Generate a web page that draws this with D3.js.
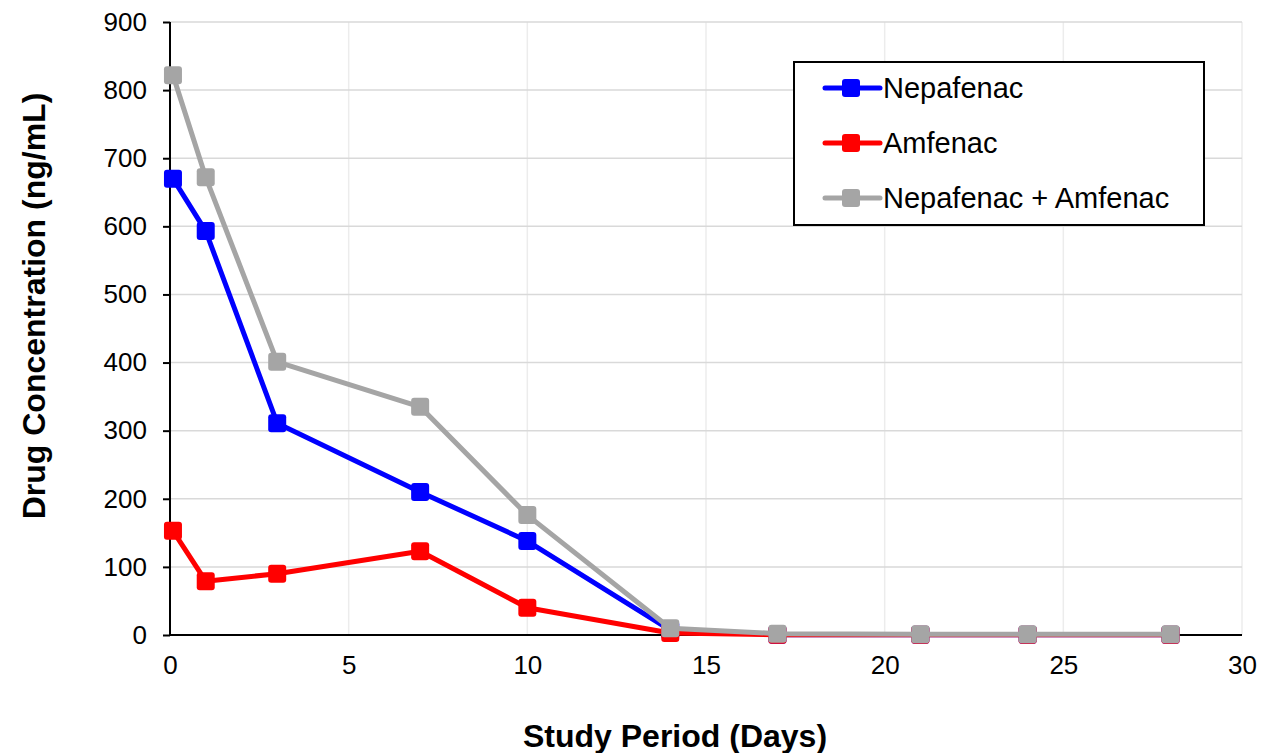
<!DOCTYPE html>
<html>
<head>
<meta charset="utf-8">
<script src="https://cdn.jsdelivr.net/npm/d3@7"></script>
<style>
  body { margin: 0; background: #fff; }
  svg { font-family: "Liberation Sans", Arial, sans-serif; }
</style>
</head>
<body>
<div id="container"></div>
<script>
const w = 1263;
const h = 753;
const margin = {left: 170, right: 21, top: 22, bottom: 118};

// data
const days = [0.083, 1, 3, 7, 10, 14, 17, 21, 24, 28];
const nepafenac = [670, 593, 311, 210, 138, 7, 0.5, 0.3, 0.3, 0.3];
const amfenac = [153, 79, 90, 123, 40, 3, 0.3, 0.2, 0.2, 0.2];
const combined = [822, 672, 401, 335, 176, 10, 2, 1, 1, 1];
const seriesNames = ['Nepafenac', 'Amfenac', 'Nepafenac + Amfenac'];
const seriesColors = ['#0000ff', '#ff0000', '#a5a5a5'];
const xTicks = [0, 5, 10, 15, 20, 25, 30];
const yTicks = [0, 100, 200, 300, 400, 500, 600, 700, 800, 900];

const series = [nepafenac, amfenac, combined].map((vals, i) => ({
  name: seriesNames[i],
  color: seriesColors[i],
  points: vals.map((v, j) => ({x: days[j], y: v}))
}));

const svg = d3.select('#container')
              .append('svg')
              .attr('width', w)
              .attr('height', h);

const xScale = d3.scaleLinear()
                .domain([0, 30])
                .range([margin.left, w - margin.right]);
const yScale = d3.scaleLinear()
                .domain([0, 900])
                .range([h - margin.bottom, margin.top]);

// grid
svg.append('g')
  .selectAll('line')
  .data(xTicks.slice(1))
  .enter()
  .append('line')
  .attr('x1', d => xScale(d))
  .attr('x2', d => xScale(d))
  .attr('y1', yScale(0))
  .attr('y2', yScale(900))
  .attr('stroke', '#ececec')
  .attr('stroke-width', 1.5);
svg.append('g')
  .selectAll('line')
  .data(yTicks.slice(1))
  .enter()
  .append('line')
  .attr('x1', xScale(0))
  .attr('x2', xScale(30))
  .attr('y1', d => yScale(d))
  .attr('y2', d => yScale(d))
  .attr('stroke', '#d9d9d9')
  .attr('stroke-width', 1.5);

// axes
const xAxis = d3.axisBottom(xScale).tickValues(xTicks).tickSize(0).tickPadding(21);
const yAxis = d3.axisLeft(yScale).tickValues(yTicks).tickSize(7).tickPadding(16);
const gx = svg.append('g')
  .attr('transform', `translate(0,${yScale(0)})`)
  .call(xAxis);
const gy = svg.append('g')
  .attr('transform', `translate(${xScale(0)},0)`)
  .call(yAxis);
[gx, gy].forEach(g => {
  g.select('.domain').attr('stroke', '#000').attr('stroke-width', 2);
  g.selectAll('.tick line').attr('stroke', '#000').attr('stroke-width', 2);
  g.selectAll('.tick text')
    .style('font-size', '26px')
    .style('font-family', '"Liberation Sans", Arial, sans-serif')
    .attr('fill', '#000');
});
gx.select('.domain').attr('d', `M${xScale(0)},0H${xScale(30)}`);
gy.select('.domain').attr('d', `M0,${yScale(0)}V${yScale(900)}`);

// axis titles
svg.append('text')
  .text('Study Period (Days)')
  .attr('x', 675)
  .attr('y', 747)
  .attr('text-anchor', 'middle')
  .style('font-size', '32px')
  .style('font-weight', 'bold');
svg.append('text')
  .text('Drug Concentration (ng/mL)')
  .attr('transform', `translate(45,306) rotate(-90)`)
  .attr('text-anchor', 'middle')
  .style('font-size', '32px')
  .style('font-weight', 'bold');

// lines and markers
const line = d3.line().x(d => xScale(d.x)).y(d => yScale(d.y));
const ms = 18;
series.forEach(s => {
  const g = svg.append('g');
  g.append('path')
    .datum(s.points)
    .attr('d', line)
    .attr('fill', 'none')
    .attr('stroke', s.color)
    .attr('stroke-width', 5)
    .attr('stroke-linejoin', 'round');
  g.selectAll('rect')
    .data(s.points)
    .enter()
    .append('rect')
    .attr('x', d => xScale(d.x) - ms / 2)
    .attr('y', d => yScale(d.y) - ms / 2)
    .attr('width', ms)
    .attr('height', ms)
    .attr('rx', 3)
    .attr('fill', s.color);
});

// legend
const legend = svg.append('g')
  .attr('transform', 'translate(794,62)');
legend.append('rect')
  .attr('width', 410)
  .attr('height', 163)
  .attr('fill', '#fff')
  .attr('stroke', '#000')
  .attr('stroke-width', 2);
const item = legend.selectAll('g.item')
  .data(series)
  .enter()
  .append('g')
  .attr('class', 'item')
  .attr('transform', (d, i) => `translate(0,${26 + i * 55})`);
item.append('line')
  .attr('x1', 31)
  .attr('x2', 86)
  .attr('stroke', d => d.color)
  .attr('stroke-width', 5)
  .attr('stroke-linecap', 'round');
item.append('rect')
  .attr('x', 57 - ms / 2)
  .attr('y', -ms / 2)
  .attr('width', ms)
  .attr('height', ms)
  .attr('rx', 3)
  .attr('fill', d => d.color);
item.append('text')
  .text(d => d.name)
  .attr('x', 89)
  .attr('y', 10)
  .style('font-size', '29px');
</script>
</body>
</html>
